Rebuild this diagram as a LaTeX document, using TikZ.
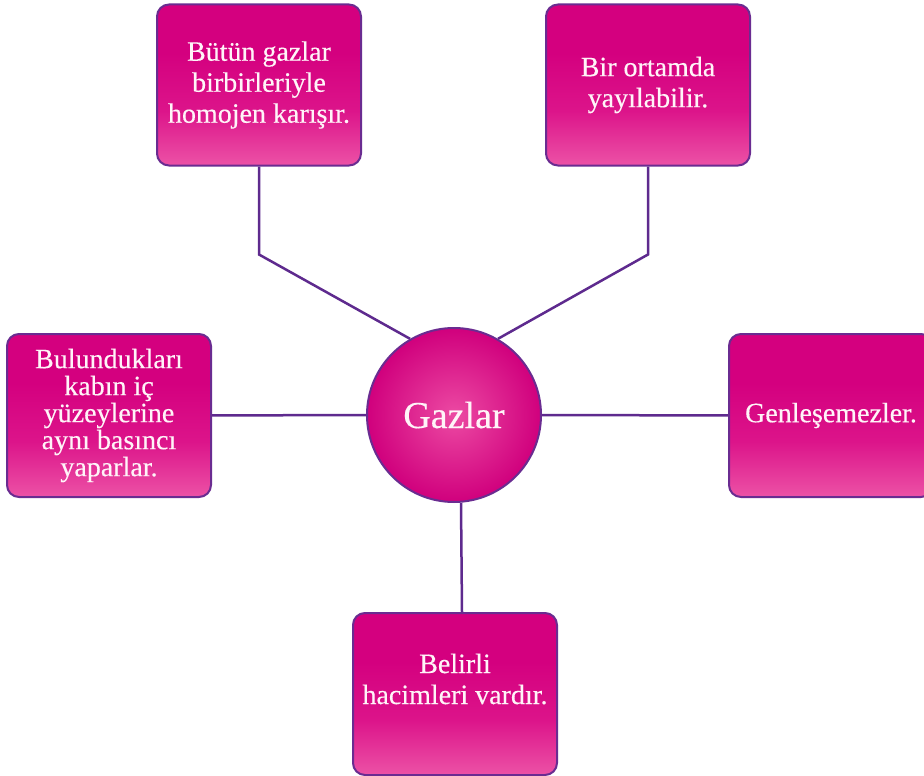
\documentclass[tikz,border=0pt]{standalone}
\usepackage{fontspec}
\setmainfont{Liberation Serif}
\newfontfamily\boxfont{Liberation Serif}[FakeBold=0.35]
\usetikzlibrary{backgrounds}
\definecolor{boxtop}{HTML}{D4007F}
\definecolor{boxmid}{HTML}{DC148A}
\definecolor{boxbot}{HTML}{EC52A6}
\definecolor{edgecol}{HTML}{6A2C91}
\definecolor{wirecol}{HTML}{5E2A8E}
\definecolor{ctrcol}{HTML}{EC4AA3}
\definecolor{outcol}{HTML}{D0007D}
\definecolor{txtcol}{HTML}{FFF4F8}
\pgfdeclareverticalshading{boxgrad}{100bp}{color(0bp)=(boxbot); color(25bp)=(boxbot); color(42bp)=(boxmid); color(60bp)=(boxtop); color(100bp)=(boxtop)}
\tikzset{
  infobox/.style={rectangle, rounded corners=12pt, minimum width=204pt, minimum height=161pt,
    draw=edgecol, line width=2pt, shading=boxgrad,
    text=txtcol, align=center, inner sep=2pt, font=\boxfont\fontsize{28}{31}\selectfont},
  boxtext/.style={text=txtcol, align=center, font=\boxfont\fontsize{28}{31}\selectfont},
  hub/.style={circle, minimum size=174pt, draw=edgecol, line width=2pt,
    inner color=ctrcol, outer color=outcol, text=txtcol, font=\boxfont\fontsize{38}{40}\selectfont},
  wire/.style={draw=wirecol, line width=2.5pt}
}
\begin{document}
\begin{tikzpicture}[x=1pt,y=-1pt]
\useasboundingbox (0,0) rectangle (924,776);
\clip (0,0) rectangle (924,776);
\node[infobox] (tl) at (259,85) {Bütün gazlar\\birbirleriyle\\homojen karışır.};
\node[infobox] (tr) at (648,85) {Bir ortamda\\yayılabilir.};
\node[infobox, font=\boxfont\fontsize{28}{27}\selectfont, minimum height=163pt] (lf) at (109,415.5) {Bulundukları\\kabın iç\\yüzeylerine\\aynı basıncı\\yaparlar.};
\node[infobox, minimum height=163pt] (rt) at (831,415.5) {Genleşemezler.};
\node[infobox, minimum height=162pt] (bt) at (455,694) {};
\node[boxtext] (btxt) at (455,679) {Belirli\\hacimleri vardır.};
\node[hub] (c) at (454,415) {Gazlar};
\begin{scope}[on background layer]
\draw[wire] (tl.south) -- ++(0,88) coordinate (tlb) -- (c.120);
\draw[wire] (tr.south) -- ++(0,88) coordinate (trb) -- (c.60);
\draw[wire] (lf) -- (c);
\draw[wire] (c) -- (rt);
\draw[wire] ([xshift=7pt]bt.north) -- ([xshift=7pt]c.south);
\end{scope}
\end{tikzpicture}
\end{document}
